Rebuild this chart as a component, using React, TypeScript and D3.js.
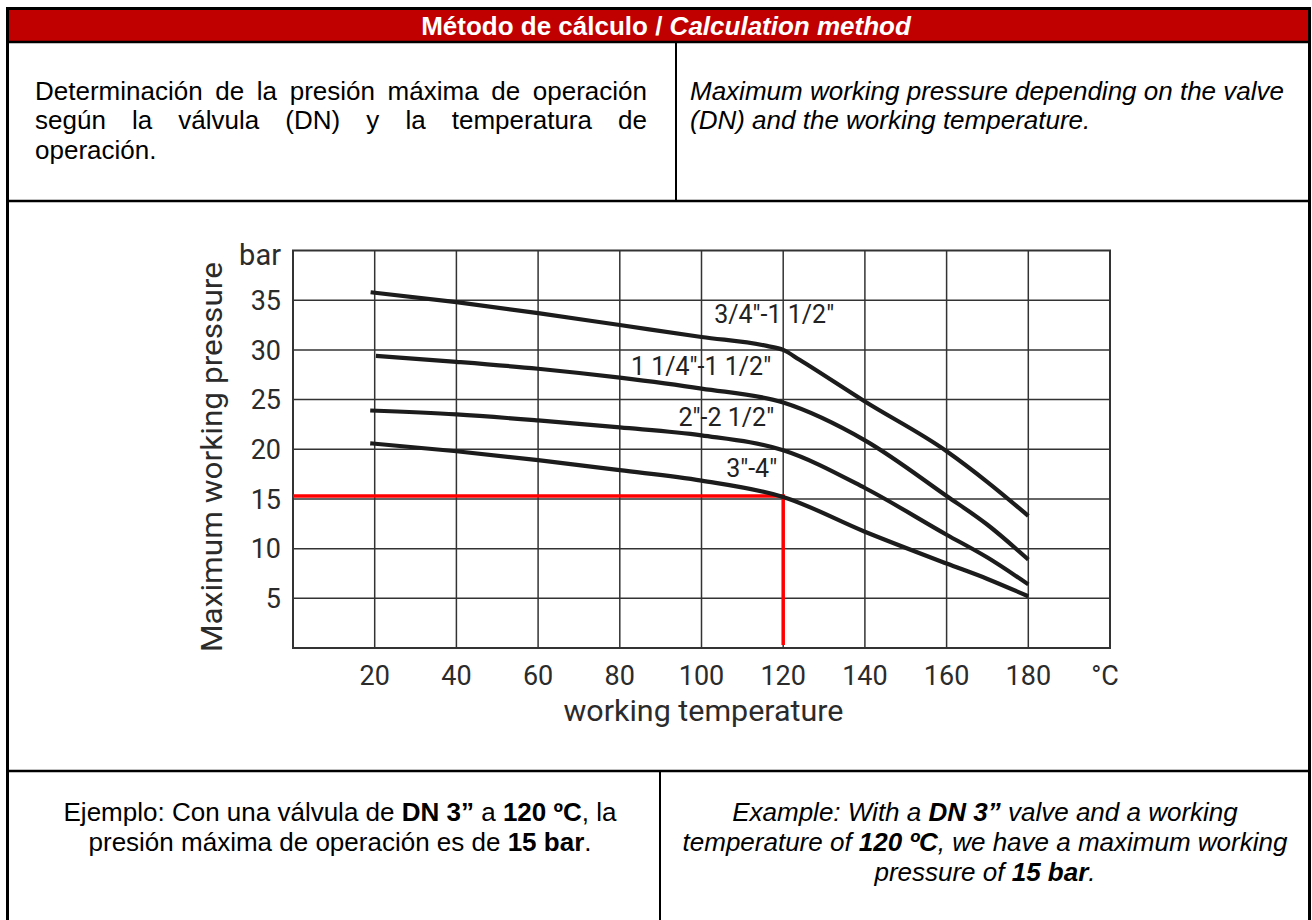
import React, { useEffect, useRef } from 'react';
import * as d3 from 'd3';

// curve families: DN range -> (temperature °C, max pressure bar)
const seriesNames = ['3/4″-1 1/2″', '1 1/4″-1 1/2″', '2″-2 1/2″', '3″-4″'];
const tempsA = [19, 40, 60, 80, 100, 116, 120, 124, 140, 160, 170, 180];
const pressA = [35.8, 34.8, 33.7, 32.5, 31.3, 30.4, 30.0, 29.0, 24.8, 19.8, 16.7, 13.3];
const tempsB = [20.3, 40, 60, 80, 100, 120, 140, 160, 170, 180];
const pressB = [29.4, 28.8, 28.1, 27.2, 26.1, 24.7, 20.9, 15.3, 12.4, 8.9];
const tempsC = [18.9, 40, 60, 80, 100, 120, 140, 160, 170, 180];
const pressC = [23.9, 23.5, 22.9, 22.2, 21.4, 19.9, 16.1, 11.4, 9.1, 6.4];
const tempsD = [18.9, 40, 60, 80, 100, 120, 140, 160, 170, 180];
const pressD = [20.6, 19.8, 18.9, 17.9, 16.85, 15.2, 11.7, 8.5, 6.95, 5.2];

const xTicks = [20, 40, 60, 80, 100, 120, 140, 160, 180];
const yTicks = [5, 10, 15, 20, 25, 30, 35];

// worked example (red guide)
const exampleTemp = 120;
const examplePressure = 15.3;
const exampleFloor = 0.3;

const headerEs = 'Método de cálculo / ';
const headerEn = 'Calculation method';
const descEs = [
  'Determinación de la presión máxima de operación',
  'según la válvula (DN) y la temperatura de',
  'operación.'
];
const descEn = ['Maximum working pressure depending on the valve', '(DN) and the working temperature.'];
const exampleEs: [string, boolean][][] = [
  [['Ejemplo: Con una válvula de ', false], ['DN 3”', true], [' a ', false], ['120 ºC', true], [', la', false]],
  [['presión máxima de operación es de ', false], ['15 bar', true], ['.', false]]
];
const exampleEn: [string, boolean][][] = [
  [['Example: With a ', false], ['DN 3”', true], [' valve and a working', false]],
  [['temperature of ', false], ['120 ºC', true], [', we have a maximum working', false]],
  [['pressure of ', false], ['15 bar', true], ['.', false]]
];

// label offsets from the 120 °C knee of each curve (px)
const labelOffsets = [[51, -27], [-12, -28], [-9, -24], [-6, -20]];

const App = () => {
  const ref = useRef<SVGSVGElement>(null);

  useEffect(() => {
    const svg = d3.select(ref.current);
    svg.selectAll('*').remove();

    const sans = '"Liberation Sans", Arial, sans-serif';
    const din = 'Roboto, "DejaVu Sans", sans-serif';
    const fs = 26;
    const lineGap = 29.9;

    // ---- table frame
    svg.append('rect').attr('x', 9).attr('y', 10).attr('width', 1299).attr('height', 31).attr('fill', '#c00000');
    const frame = svg.append('g').attr('stroke', '#000');
    frame.append('line').attr('x1', 7.5).attr('x2', 7.5).attr('y1', 7).attr('y2', 920).attr('stroke-width', 3);
    frame.append('line').attr('x1', 1309.5).attr('x2', 1309.5).attr('y1', 7).attr('y2', 920).attr('stroke-width', 3);
    frame.append('line').attr('x1', 6).attr('x2', 1311).attr('y1', 8.5).attr('y2', 8.5).attr('stroke-width', 3);
    frame.append('line').attr('x1', 6).attr('x2', 1311).attr('y1', 42).attr('y2', 42).attr('stroke-width', 2.5);
    frame.append('line').attr('x1', 6).attr('x2', 1311).attr('y1', 201).attr('y2', 201).attr('stroke-width', 2.3);
    frame.append('line').attr('x1', 6).attr('x2', 1311).attr('y1', 771).attr('y2', 771).attr('stroke-width', 2.3);
    frame.append('line').attr('x1', 676).attr('x2', 676).attr('y1', 42).attr('y2', 201).attr('stroke-width', 2);
    frame.append('line').attr('x1', 660).attr('x2', 660).attr('y1', 771).attr('y2', 920).attr('stroke-width', 2);

    // header
    const head = svg.append('text')
      .attr('x', 666).attr('y', 35)
      .attr('text-anchor', 'middle')
      .attr('font-family', sans).attr('font-size', fs).attr('font-weight', 700)
      .attr('fill', '#fff')
      .style('white-space', 'pre');
    head.append('tspan').text(headerEs);
    head.append('tspan').attr('font-style', 'italic').text(headerEn);

    // spanish description, justified
    const desc = svg.append('g').attr('font-family', sans).attr('font-size', fs).attr('fill', '#000');
    descEs.forEach((line, i) => {
      const yy = 99.5 + i * lineGap;
      if (i === descEs.length - 1) {
        desc.append('text').attr('x', 35).attr('y', yy).text(line);
        return;
      }
      const words = line.split(' ');
      const widths = words.map(w => {
        const t = desc.append('text').text(w);
        const l = (t.node() as SVGTextElement).getComputedTextLength();
        t.remove();
        return l;
      });
      const gap = (647 - 35 - d3.sum(widths)) / (words.length - 1);
      let xx = 35;
      words.forEach((w, j) => {
        desc.append('text').attr('x', xx).attr('y', yy).text(w);
        xx += widths[j] + gap;
      });
    });
    descEn.forEach((line, i) => {
      desc.append('text').attr('x', 690).attr('y', 99.5 + i * lineGap)
        .attr('font-style', 'italic').text(line);
    });

    // example rows
    const runsLine = (runs: [string, boolean][], cx: number, yy: number, italic: boolean) => {
      const t = svg.append('text')
        .attr('x', cx).attr('y', yy)
        .attr('text-anchor', 'middle')
        .attr('font-family', sans).attr('font-size', fs)
        .attr('font-style', italic ? 'italic' : 'normal')
        .attr('fill', '#000')
        .style('white-space', 'pre');
      runs.forEach(([s, b]) => t.append('tspan').attr('font-weight', b ? 700 : 400).text(s));
    };
    exampleEs.forEach((runs, i) => runsLine(runs, 340, 821 + i * lineGap, false));
    exampleEn.forEach((runs, i) => runsLine(runs, 985, 821 + i * lineGap, true));

    // ---- chart
    const x = d3.scaleLinear().domain([0, 200]).range([293, 1110]);
    const y = d3.scaleLinear().domain([0, 40]).range([648, 250.5]);

    const grid = svg.append('g').attr('stroke', '#333').attr('stroke-width', 1.5);
    grid.selectAll('line.v')
      .data(xTicks).enter()
      .append('line')
      .attr('x1', d => x(d)).attr('x2', d => x(d))
      .attr('y1', y(40)).attr('y2', y(0));
    grid.selectAll('line.h')
      .data(yTicks).enter()
      .append('line')
      .attr('y1', d => y(d)).attr('y2', d => y(d))
      .attr('x1', x(0)).attr('x2', x(200));
    grid.append('rect')
      .attr('x', x(0)).attr('y', y(40))
      .attr('width', x(200) - x(0)).attr('height', y(0) - y(40))
      .attr('fill', 'none').attr('stroke-width', 2);

    // tick labels
    const ticks = svg.append('g').attr('font-family', din).attr('fill', '#2b2b2b');
    ticks.selectAll('text.y')
      .data(yTicks).enter()
      .append('text')
      .attr('x', x(0) - 12)
      .attr('y', d => y(d))
      .attr('dy', '0.36em')
      .attr('text-anchor', 'end')
      .attr('font-size', 27)
      .text(d => d);
    ticks.append('text')
      .attr('x', x(0) - 12).attr('y', y(40)).attr('dy', '0.5em')
      .attr('text-anchor', 'end').attr('font-size', 29)
      .text('bar');
    ticks.selectAll('text.x')
      .data(xTicks).enter()
      .append('text')
      .attr('x', d => x(d))
      .attr('y', 675)
      .attr('dy', '0.36em')
      .attr('text-anchor', 'middle')
      .attr('font-size', 27)
      .text(d => d);
    ticks.append('text')
      .attr('x', x(200) - 5).attr('y', 675).attr('dy', '0.36em')
      .attr('text-anchor', 'middle').attr('font-size', 27)
      .text('°C');

    // axis titles
    ticks.append('text')
      .attr('transform', `translate(211, 457) rotate(-90)`)
      .attr('text-anchor', 'middle').attr('dy', '0.36em')
      .attr('font-size', 30)
      .attr('textLength', 390).attr('lengthAdjust', 'spacingAndGlyphs')
      .text('Maximum working pressure');
    ticks.append('text')
      .attr('x', (x(0) + x(200)) / 2 + 2).attr('y', 712).attr('dy', '0.3em')
      .attr('text-anchor', 'middle')
      .attr('font-size', 30)
      .attr('textLength', 280).attr('lengthAdjust', 'spacingAndGlyphs')
      .text('working temperature');

    // red example guide
    svg.append('path')
      .attr('d', `M${x(0)},${y(examplePressure)}H${x(exampleTemp)}V${y(exampleFloor)}`)
      .attr('fill', 'none')
      .attr('stroke', '#ff0000')
      .attr('stroke-width', 3.5);

    // curves
    const series = [
      d3.zip(tempsA, pressA),
      d3.zip(tempsB, pressB),
      d3.zip(tempsC, pressC),
      d3.zip(tempsD, pressD)
    ];
    const line = d3.line<number[]>()
      .x(d => x(d[0]))
      .y(d => y(d[1]))
      .curve(d3.curveMonotoneX);
    svg.append('g').selectAll('path')
      .data(series).enter()
      .append('path')
      .attr('d', d => line(d))
      .attr('fill', 'none')
      .attr('stroke', '#1c1c1c')
      .attr('stroke-width', 4.2);

    // curve labels
    svg.append('g').selectAll('text')
      .data(series).enter()
      .append('text')
      .attr('x', (d, i) => x(120) + labelOffsets[i][0])
      .attr('y', d => y(d.find(p => p[0] === 120)![1]))
      .attr('dy', (d, i) => labelOffsets[i][1])
      .attr('text-anchor', 'end')
      .attr('font-family', din)
      .attr('font-size', 25)
      .attr('fill', '#222')
      .text((d, i) => seriesNames[i]);
  }, []);

  return (
    <div style={{ position: 'absolute', left: 0, top: 0 }}>
      <svg ref={ref} width={1312} height={920} style={{ display: 'block', background: '#fff' }} />
    </div>
  );
};

export default App;
